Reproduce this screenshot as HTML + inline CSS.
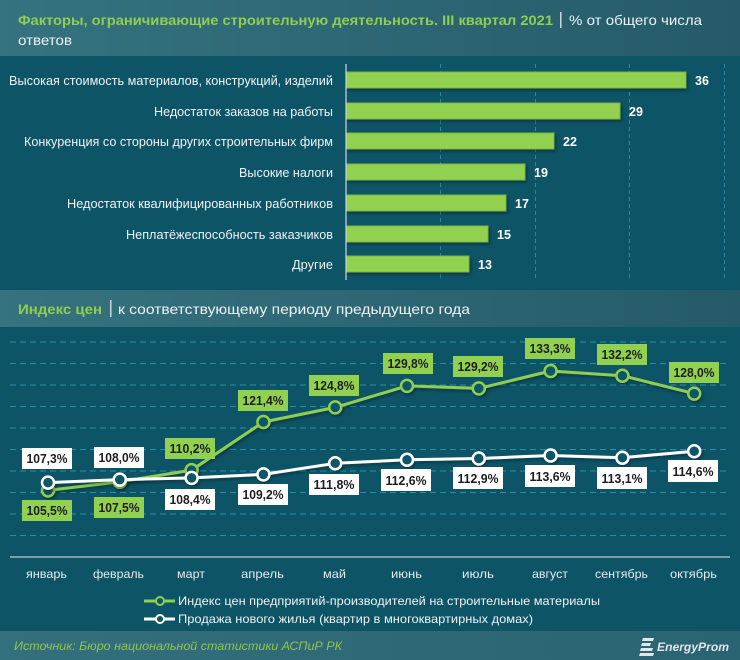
<!DOCTYPE html>
<html><head><meta charset="utf-8"><style>
html,body{margin:0;padding:0;background:#0e5467;}
svg{display:block;}
text{font-family:"Liberation Sans",sans-serif;}
</style></head><body>
<svg width="740" height="660" viewBox="0 0 740 660" xmlns="http://www.w3.org/2000/svg">
<defs>
<linearGradient id="hb" x1="0" x2="1" y1="0" y2="0"><stop offset="0" stop-color="#36727f"/><stop offset="1" stop-color="#255b69"/></linearGradient>
<linearGradient id="fb" x1="0" x2="1" y1="0" y2="0"><stop offset="0" stop-color="#346f7d"/><stop offset="1" stop-color="#2a6372"/></linearGradient>
<filter id="sh" x="-10%" y="-20%" width="130%" height="160%"><feDropShadow dx="1.5" dy="2" stdDeviation="1.5" flood-color="#000" flood-opacity="0.35"/></filter>
</defs>
<rect x="0" y="0" width="740" height="660" fill="#0e5467"/>
<!-- header band -->
<rect x="0" y="0" width="740" height="56" fill="url(#hb)"/>
<text x="18" y="25" font-size="14" font-weight="bold" fill="#8fcf50" textLength="535" lengthAdjust="spacingAndGlyphs">Факторы, ограничивающие строительную деятельность. III квартал 2021</text>
<rect x="560" y="12" width="1.5" height="16" fill="#c9d6da"/>
<text x="569" y="25" font-size="14" fill="#eef3f4" textLength="133" lengthAdjust="spacingAndGlyphs">% от общего числа</text>
<text x="18" y="45" font-size="14" fill="#eef3f4" textLength="54" lengthAdjust="spacingAndGlyphs">ответов</text>

<!-- bar gridlines -->
<g stroke="#2f86a0" stroke-width="1" stroke-dasharray="4,3">
<line x1="440.5" y1="64" x2="440.5" y2="280"/>
<line x1="535.5" y1="64" x2="535.5" y2="280"/>
<line x1="629.5" y1="64" x2="629.5" y2="280"/>
<line x1="724.5" y1="64" x2="724.5" y2="280"/>
</g>
<!-- bars -->
<g filter="url(#sh)" fill="#92d050" stroke="#7cb843" stroke-width="1">
<rect x="346" y="72" width="340" height="16"/>
<rect x="346" y="103" width="274" height="16"/>
<rect x="346" y="133" width="208" height="16"/>
<rect x="346" y="164" width="179" height="16"/>
<rect x="346" y="195" width="160" height="16"/>
<rect x="346" y="226" width="142" height="16"/>
<rect x="346" y="256" width="123" height="16"/>
</g>
<line x1="346" y1="64" x2="346" y2="280" stroke="#cdd8dc" stroke-width="1.2"/>
<g font-size="12.5" fill="#eef3f4" text-anchor="end">
<text x="333" y="85" textLength="324" lengthAdjust="spacingAndGlyphs">Высокая стоимость материалов, конструкций, изделий</text>
<text x="333" y="116" textLength="179" lengthAdjust="spacingAndGlyphs">Недостаток заказов на работы</text>
<text x="333" y="146" textLength="309" lengthAdjust="spacingAndGlyphs">Конкуренция со стороны других строительных фирм</text>
<text x="333" y="177" textLength="94" lengthAdjust="spacingAndGlyphs">Высокие налоги</text>
<text x="333" y="208" textLength="266" lengthAdjust="spacingAndGlyphs">Недостаток квалифицированных работников</text>
<text x="333" y="239" textLength="207" lengthAdjust="spacingAndGlyphs">Неплатёжеспособность заказчиков</text>
<text x="333" y="269" textLength="41" lengthAdjust="spacingAndGlyphs">Другие</text>
</g>
<g font-size="12.5" font-weight="bold" fill="#ffffff">
<text x="695" y="85">36</text>
<text x="629" y="116">29</text>
<text x="563" y="146">22</text>
<text x="534" y="177">19</text>
<text x="515" y="208">17</text>
<text x="497" y="239">15</text>
<text x="478" y="269">13</text>
</g>

<!-- second band -->
<rect x="0" y="290" width="740" height="37" fill="url(#hb)"/>
<text x="18" y="314" font-size="14" font-weight="bold" fill="#8fcf50" textLength="84" lengthAdjust="spacingAndGlyphs">Индекс цен</text>
<rect x="110" y="300" width="1.5" height="17" fill="#c9d6da"/>
<text x="118" y="314" font-size="14" fill="#eef3f4" textLength="352" lengthAdjust="spacingAndGlyphs">к соответствующему периоду предыдущего года</text>

<!-- line chart grid -->
<g stroke="#2a8fab" stroke-width="1" stroke-dasharray="6,4">
<line x1="10" y1="342" x2="730" y2="342"/>
<line x1="10" y1="363.5" x2="730" y2="363.5"/>
<line x1="10" y1="385" x2="730" y2="385"/>
<line x1="10" y1="406.5" x2="730" y2="406.5"/>
<line x1="10" y1="428" x2="730" y2="428"/>
<line x1="10" y1="449.5" x2="730" y2="449.5"/>
<line x1="10" y1="471" x2="730" y2="471"/>
<line x1="10" y1="492.5" x2="730" y2="492.5"/>
<line x1="10" y1="514" x2="730" y2="514"/>
<line x1="10" y1="535.5" x2="730" y2="535.5"/>
</g>
<line x1="10" y1="557" x2="730" y2="557" stroke="#9db6be" stroke-width="1.5"/>

<!-- green series -->
<g filter="url(#sh)">
<polyline fill="none" stroke="#8fcf50" stroke-width="3" stroke-linejoin="round" points="48,490.4 119.8,481.8 191.6,470.1 263.4,422 335.2,407.4 407,385.9 478.8,388.4 550.6,371 622.4,375.7 694.2,393.6"/>
<g fill="#0e5467" stroke="#8fcf50" stroke-width="2.5">
<circle cx="48" cy="490.4" r="6"/>
<circle cx="119.8" cy="481.8" r="6"/>
<circle cx="191.6" cy="470.1" r="6"/>
<circle cx="263.4" cy="422" r="6"/>
<circle cx="335.2" cy="407.4" r="6"/>
<circle cx="407" cy="385.9" r="6"/>
<circle cx="478.8" cy="388.4" r="6"/>
<circle cx="550.6" cy="371" r="6"/>
<circle cx="622.4" cy="375.7" r="6"/>
<circle cx="694.2" cy="393.6" r="6"/>
</g>
</g>
<!-- white series -->
<g filter="url(#sh)">
<polyline fill="none" stroke="#ffffff" stroke-width="3" stroke-linejoin="round" points="48,482.6 119.8,479.6 191.6,477.9 263.4,474.4 335.2,463.3 407,459.8 478.8,458.5 550.6,455.5 622.4,457.7 694.2,451.2"/>
<g fill="#0e5467" stroke="#ffffff" stroke-width="2.5">
<circle cx="48" cy="482.6" r="6"/>
<circle cx="119.8" cy="479.6" r="6"/>
<circle cx="191.6" cy="477.9" r="6"/>
<circle cx="263.4" cy="474.4" r="6"/>
<circle cx="335.2" cy="463.3" r="6"/>
<circle cx="407" cy="459.8" r="6"/>
<circle cx="478.8" cy="458.5" r="6"/>
<circle cx="550.6" cy="455.5" r="6"/>
<circle cx="622.4" cy="457.7" r="6"/>
<circle cx="694.2" cy="451.2" r="6"/>
</g>
</g>

<!-- green labels -->
<g fill="#92d050">
<rect x="22" y="500" width="50" height="21"/>
<rect x="94" y="497" width="50" height="21"/>
<rect x="165" y="438" width="50" height="21"/>
<rect x="238" y="390" width="50" height="21"/>
<rect x="309" y="375" width="50" height="21"/>
<rect x="383" y="353" width="50" height="21"/>
<rect x="453" y="356" width="50" height="21"/>
<rect x="525" y="338" width="50" height="21"/>
<rect x="597" y="344" width="50" height="21"/>
<rect x="669" y="362" width="50" height="21"/>
</g>
<g fill="#ffffff">
<rect x="22" y="448" width="50" height="21"/>
<rect x="94" y="447" width="50" height="21"/>
<rect x="165" y="489" width="50" height="21"/>
<rect x="238" y="484" width="50" height="21"/>
<rect x="309" y="474" width="50" height="21"/>
<rect x="381" y="469" width="50" height="22"/>
<rect x="453" y="467" width="50" height="22"/>
<rect x="525" y="465" width="50" height="22"/>
<rect x="597" y="467" width="50" height="22"/>
<rect x="668" y="460" width="50" height="22"/>
</g>
<g font-size="12.5" font-weight="bold" fill="#1e1e1e" text-anchor="middle">
<text x="47" y="515" textLength="41" lengthAdjust="spacingAndGlyphs">105,5%</text>
<text x="119" y="512" textLength="41" lengthAdjust="spacingAndGlyphs">107,5%</text>
<text x="190" y="453" textLength="41" lengthAdjust="spacingAndGlyphs">110,2%</text>
<text x="263" y="405" textLength="41" lengthAdjust="spacingAndGlyphs">121,4%</text>
<text x="334" y="390" textLength="41" lengthAdjust="spacingAndGlyphs">124,8%</text>
<text x="408" y="368" textLength="41" lengthAdjust="spacingAndGlyphs">129,8%</text>
<text x="478" y="371" textLength="41" lengthAdjust="spacingAndGlyphs">129,2%</text>
<text x="550" y="353" textLength="41" lengthAdjust="spacingAndGlyphs">133,3%</text>
<text x="622" y="359" textLength="41" lengthAdjust="spacingAndGlyphs">132,2%</text>
<text x="694" y="377" textLength="41" lengthAdjust="spacingAndGlyphs">128,0%</text>
<text x="47" y="463" textLength="41" lengthAdjust="spacingAndGlyphs">107,3%</text>
<text x="119" y="462" textLength="41" lengthAdjust="spacingAndGlyphs">108,0%</text>
<text x="190" y="504" textLength="41" lengthAdjust="spacingAndGlyphs">108,4%</text>
<text x="263" y="499" textLength="41" lengthAdjust="spacingAndGlyphs">109,2%</text>
<text x="334" y="489" textLength="41" lengthAdjust="spacingAndGlyphs">111,8%</text>
<text x="406" y="485" textLength="41" lengthAdjust="spacingAndGlyphs">112,6%</text>
<text x="478" y="483" textLength="41" lengthAdjust="spacingAndGlyphs">112,9%</text>
<text x="550" y="481" textLength="41" lengthAdjust="spacingAndGlyphs">113,6%</text>
<text x="622" y="483" textLength="41" lengthAdjust="spacingAndGlyphs">113,1%</text>
<text x="693" y="476" textLength="41" lengthAdjust="spacingAndGlyphs">114,6%</text>
</g>

<!-- months -->
<g font-size="12" fill="#e3eaec">
<text x="26" y="578" textLength="41" lengthAdjust="spacingAndGlyphs">январь</text>
<text x="93" y="578" textLength="51" lengthAdjust="spacingAndGlyphs">февраль</text>
<text x="177" y="578" textLength="28" lengthAdjust="spacingAndGlyphs">март</text>
<text x="241" y="578" textLength="43" lengthAdjust="spacingAndGlyphs">апрель</text>
<text x="323" y="578" textLength="23" lengthAdjust="spacingAndGlyphs">май</text>
<text x="391" y="578" textLength="31" lengthAdjust="spacingAndGlyphs">июнь</text>
<text x="462" y="578" textLength="32" lengthAdjust="spacingAndGlyphs">июль</text>
<text x="532" y="578" textLength="36" lengthAdjust="spacingAndGlyphs">август</text>
<text x="595" y="578" textLength="53" lengthAdjust="spacingAndGlyphs">сентябрь</text>
<text x="670" y="578" textLength="47" lengthAdjust="spacingAndGlyphs">октябрь</text>
</g>

<!-- legend -->
<line x1="144" y1="601" x2="175" y2="601" stroke="#8fcf50" stroke-width="3"/>
<circle cx="160" cy="601" r="4" fill="#0e5467" stroke="#8fcf50" stroke-width="2"/>
<text x="178" y="605" font-size="12" fill="#eef3f4" textLength="422" lengthAdjust="spacingAndGlyphs">Индекс цен предприятий-производителей на строительные материалы</text>
<line x1="144" y1="619" x2="175" y2="619" stroke="#ffffff" stroke-width="3"/>
<circle cx="160" cy="619" r="4" fill="#0e5467" stroke="#ffffff" stroke-width="2"/>
<text x="178" y="623" font-size="12" fill="#eef3f4" textLength="355" lengthAdjust="spacingAndGlyphs">Продажа нового жилья (квартир в многоквартирных домах)</text>

<!-- footer -->
<rect x="0" y="631" width="740" height="29" fill="url(#fb)"/>
<text x="14" y="650" font-size="12" font-style="italic" fill="#8cc84b" textLength="328" lengthAdjust="spacingAndGlyphs">Источник: Бюро национальной статистики АСПиР РК</text>
<g fill="#e2e8ea">
<polygon points="643,638 654,638 653,641 642,641"/>
<polygon points="642,643 651,643 650,646 641,646"/>
<polygon points="641,648 653,648 652,651 640,651"/>
<polygon points="640,653 654,653 653,656 639,656"/>
</g>
<text x="657" y="651" font-size="12" font-weight="bold" font-style="italic" fill="#dfe6e9" textLength="72" lengthAdjust="spacingAndGlyphs">EnergyProm</text>
</svg>
</body></html>
